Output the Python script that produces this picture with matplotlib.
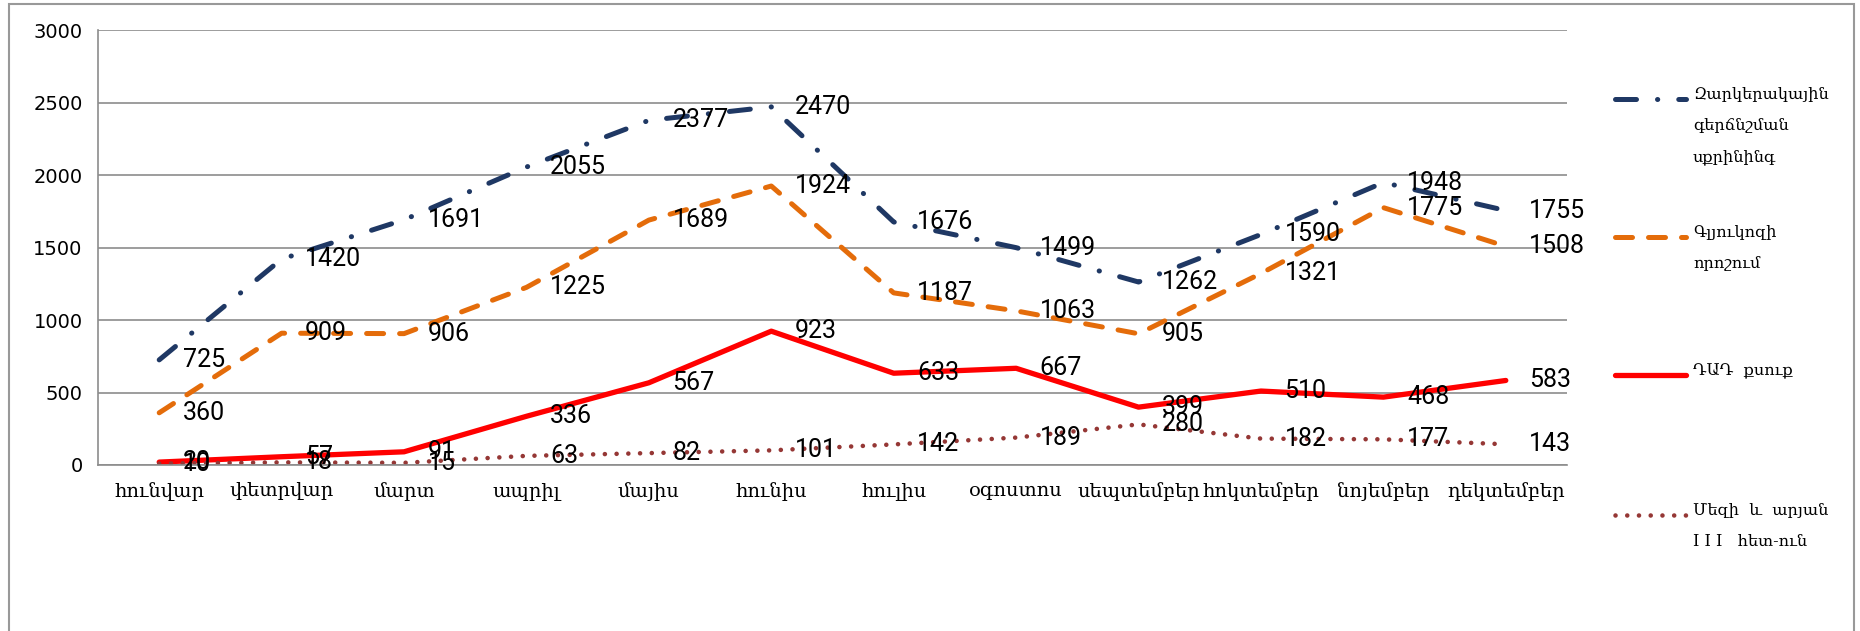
import matplotlib.pyplot as plt
from matplotlib import font_manager
from matplotlib.lines import Line2D
from matplotlib.patches import Rectangle

months = ["հունվար", "փետրվար", "մարտ", "ապրիլ", "մայիս", "հունիս",
          "հուլիս", "օգոստոս", "սեպտեմբեր", "հոկտեմբեր", "նոյեմբեր", "դեկտեմբեր"]

screening = [725, 1420, 1691, 2055, 2377, 2470, 1676, 1499, 1262, 1590, 1948, 1755]
glucose = [360, 909, 906, 1225, 1689, 1924, 1187, 1063, 905, 1321, 1775, 1508]
dap = [20, 57, 91, 336, 567, 923, 633, 667, 399, 510, 468, 583]
hiv = [10, 18, 15, 63, 82, 101, 142, 189, 280, 182, 177, 143]

names = ["Զարկերակային\nգերճնշման\nսքրինինգ", "Գլյուկոզի\nորոշում",
         "ԴԱԴ  քսուք", "Մեզի  և  արյան\nI I I   հետ-ուն"]

styles = [
    dict(color="#1F3864", lw=3.6, dashes=(4.2, 4.2, 0.05, 4.2)),
    dict(color="#E46C0A", lw=3.6, dashes=(3.4, 3.2)),
    dict(color="#FF0000", lw=3.8),
    dict(color="#953735", lw=3.3, dashes=(0.01, 2.55)),
]

serif = ["DejaVu Serif Condensed", "DejaVu Serif", "DejaVu Sans"]

# narrow font for the value labels if there is one
installed = {f.name for f in font_manager.fontManager.ttflist}
if "Liberation Sans Narrow" in installed:
    lab_family, lab_size = ["Liberation Sans Narrow", "DejaVu Sans"], 19.5
else:
    lab_family, lab_size = ["Roboto", "DejaVu Sans"], 18

fig = plt.figure(figsize=(18.6, 6.31), dpi=100)
ax = fig.add_axes([98 / 1860, 1 - 465 / 631, (1567 - 98) / 1860, 435 / 631])

x = list(range(len(months)))
for vals, st in zip([screening, glucose, dap, hiv], styles):
    ax.plot(x, vals, solid_capstyle="round", dash_capstyle="round", **st)
    for xi, v in zip(x, vals):
        ax.annotate(str(v), (xi, v), xytext=(17, 0), textcoords="offset points",
                    ha="left", va="center", fontsize=lab_size, family=lab_family,
                    color="black")

ax.set_xlim(-0.5, len(months) - 0.5)
ax.set_ylim(0, 3000)
ax.set_yticks(range(0, 3001, 500))
ax.set_xticks(x)
ax.set_xticklabels(months, family=serif, fontsize=14)
ax.tick_params(axis="x", length=0, pad=12)
ax.tick_params(axis="y", length=0, pad=11, labelsize=14)
ax.grid(axis="y", color="#8c8c8c", lw=1.2)
ax.set_axisbelow(True)
for s in ["top", "right"]:
    ax.spines[s].set_visible(False)
for s in ["left", "bottom"]:
    ax.spines[s].set_color("#8c8c8c")
    ax.spines[s].set_linewidth(1.2)

# legend drawn by hand to keep the handle on the first text line
W, H = 1860, 631
leg_y = [99, 237, 375, 515]
for name, st, yy in zip(names, styles, leg_y):
    yf = 1 - yy / H
    fig.add_artist(Line2D([1615 / W, 1686 / W], [yf, yf], transform=fig.transFigure,
                          solid_capstyle="round", dash_capstyle="round", **st))
    fig.text(1693 / W, 1 - (yy - 13) / H, name, ha="left", va="top", fontsize=11.6,
             family=serif, linespacing=2.1)

fig.add_artist(Rectangle((9 / W, -0.05), 1845 / W, 1.05 - 4 / H, transform=fig.transFigure,
                         fill=False, edgecolor="#999999", lw=1.5))

fig.savefig("out.png", dpi=100)
